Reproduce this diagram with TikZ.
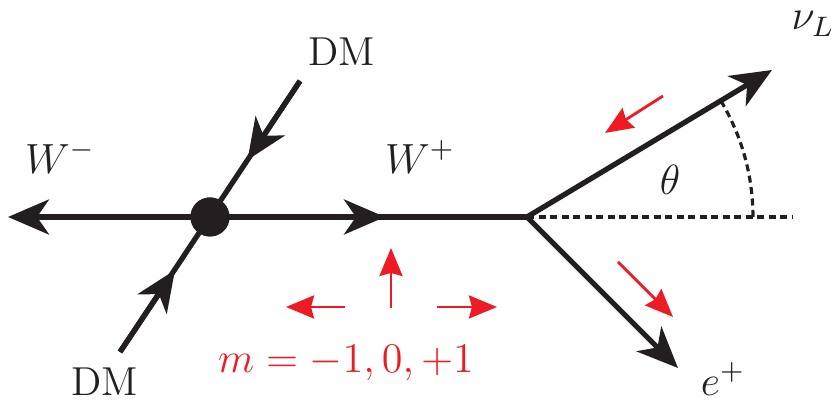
\documentclass[tikz,border=0pt]{standalone}
\usepackage{amsmath}
\usepackage{tikz}
\usetikzlibrary{arrows.meta, calc, positioning}
\definecolor{ink}{RGB}{35,31,32}
\definecolor{spinred}{RGB}{237,28,36}
\tikzset{
  particle/.style={line width=1.5pt, draw=ink},
  arrow/.style={particle, -{Stealth[length=4.1mm, width=3.5mm, inset=1.2mm]}},
  spin/.style={line width=0.8pt, draw=spinred, -{Stealth[length=2.8mm, width=2.3mm, inset=0.3mm]}},
  guide/.style={line width=0.9pt, draw=ink, dash pattern=on 0.7mm off 0.45mm},
  blob/.style={circle, fill=ink, minimum size=3.9mm, inner sep=0pt},
  lbl/.style={text=ink}
}
\begin{document}
\begin{tikzpicture}[x=0.01cm, y=0.01cm, every node/.style={font=\fontsize{11.5}{14}\selectfont}]
        \useasboundingbox (0,0) rectangle (835,401);

        % annihilation point and decay vertex
        \node (blob) [blob] at (210,184) {};
        \coordinate (vertex) at (527,184);

        % end points of the lines
        \coordinate (wminus) at (8,184);
        \coordinate (wmid) at (385,184);
        \coordinate (dmtop) at (300,320);
        \coordinate (dmtopmid) at (247.5,241);
        \coordinate (dmbot) at (120,49);
        \coordinate (dmbotmid) at (175,131);
        \coordinate (nutip) at (772,331);
        \coordinate (etip) at (678,33);
        \coordinate (axisend) at (793,184);
        \coordinate (arcstart) at (753,184);

        % labels
        \node (dmtoplbl) [lbl] at (342,349) {DM};
        \node (dmbotlbl) [lbl] at (105,19) {DM};
        \node (wminuslbl) [lbl] at (60,244) {$W^-$};
        \node (wpluslbl) [lbl] at (420,244) {$W^+$};
        \node (nulbl) [lbl] at (813,377) {$\nu_L$};
        \node (elbl) [lbl] at (723,22) {$e^+$};
        \node (thetalbl) [lbl] at (670,221) {$\theta$};
        \node (mlbl) [text=spinred] at (346,38) {$m=-1,0,+1$};

        % dark matter in, W pair out
        \draw [particle] (dmtop) -- (dmbot);
        \draw [arrow] (dmtop) -- (dmtopmid);
        \draw [arrow] (dmbot) -- (dmbotmid);
        \draw [arrow] (blob.center) -- (wminus);
        \draw [particle] (blob.center) -- (vertex);
        \draw [arrow] (blob.center) -- (wmid);

        % W+ decay
        \draw [arrow] (vertex) -- (nutip);
        \draw [arrow] (vertex) -- (etip);

        % angle
        \draw [guide] (vertex) -- (axisend);
        \draw [guide] (arcstart) arc[start angle=0, end angle=31, radius=226];

        % spin arrows
        \coordinate (upfrom) at (391,93);
        \coordinate (upto) at (391,153);
        \coordinate (leftfrom) at (345,94);
        \coordinate (leftto) at (286,94);
        \coordinate (rightfrom) at (437,94);
        \coordinate (rightto) at (497,94);
        \coordinate (nufrom) at (663,305);
        \coordinate (nuto) at (605,268);
        \coordinate (efrom) at (618,139);
        \coordinate (eto) at (673,84);
        \draw [spin] (upfrom) -- (upto);
        \draw [spin] (leftfrom) -- (leftto);
        \draw [spin] (rightfrom) -- (rightto);
        \draw [spin] (nufrom) -- (nuto);
        \draw [spin] (efrom) -- (eto);

        \node (blobtop) [blob] at (blob) {};
\end{tikzpicture}
\end{document}
